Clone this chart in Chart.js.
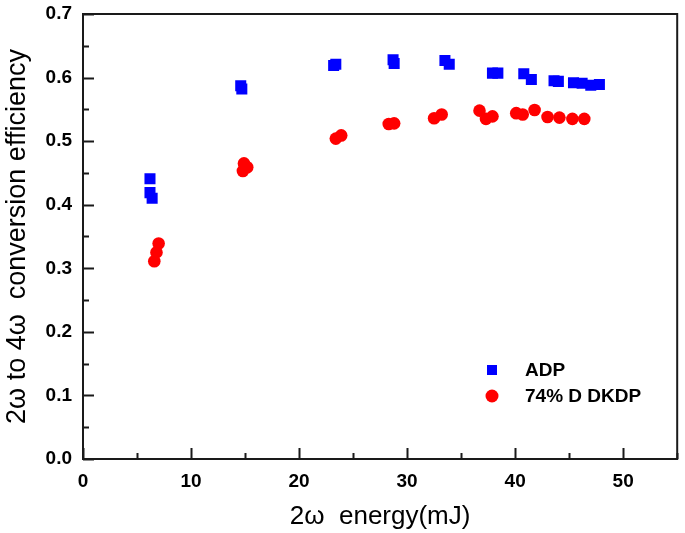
<!DOCTYPE html>
<html>
<head>
<meta charset="utf-8">
<script src="https://cdn.jsdelivr.net/npm/chart.js@4/dist/chart.umd.min.js"></script>
<style>
  html, body { margin: 0; padding: 0; background: #fff; }
  #wrap { width: 685px; height: 533px; }
</style>
</head>
<body>
<div id="wrap"><canvas id="chart" width="685" height="533"></canvas></div>
<script>
const adpEnergy = [6.2, 6.2, 6.4, 14.6, 14.7, 23.2, 23.4, 28.7, 28.8, 33.5, 33.9, 37.9, 38.4, 40.8, 41.5, 43.6, 44.0, 45.4, 46.2, 47.0, 47.8];
const adpEff    = [0.441, 0.419, 0.410, 0.587, 0.582, 0.619, 0.621, 0.628, 0.622, 0.627, 0.621, 0.607, 0.607, 0.606, 0.597, 0.595, 0.594, 0.592, 0.591, 0.588, 0.589];

const dkdpEnergy = [6.6, 6.8, 7.0, 14.9, 14.8, 15.2, 23.4, 23.9, 28.3, 28.8, 32.5, 33.2, 36.7, 37.3, 37.9, 40.1, 40.7, 41.8, 43.0, 44.1, 45.3, 46.4];
const dkdpEff    = [0.311, 0.325, 0.339, 0.465, 0.453, 0.459, 0.504, 0.509, 0.527, 0.528, 0.536, 0.542, 0.548, 0.535, 0.539, 0.544, 0.542, 0.549, 0.538, 0.537, 0.535, 0.535];

const seriesNames = ['ADP', '74% D DKDP'];
const xTitle = '2\u03c9  energy(mJ)';
const yTitle = '2\u03c9 to 4\u03c9  conversion efficiency';
const xTickLabels = ['0', '10', '20', '30', '40', '50'];

const FONT = '"Liberation Sans", Arial, sans-serif';
const toPoints = (xs, ys) => xs.map((x, i) => ({ x, y: ys[i] }));

// frame, inward ticks (major + minor) and the in-plot legend
const framePlugin = {
  id: 'frame',
  afterDraw(chart) {
    const { ctx, chartArea: a, scales } = chart;
    const xs = scales.x, ys = scales.y;
    ctx.save();
    ctx.strokeStyle = '#1a1a1a';
    ctx.lineWidth = 2;
    ctx.strokeRect(a.left, a.top, a.right - a.left, a.bottom - a.top);

    ctx.beginPath();
    for (let v = 0; v <= 55.001; v += 5) {
      const px = Math.round(xs.getPixelForValue(v)) + 0.5;
      const len = (Math.round(v) % 10 === 0) ? 11 : 6;
      ctx.moveTo(px, a.bottom);
      ctx.lineTo(px, a.bottom - len);
    }
    for (let k = 0; k <= 14; k++) {
      const py = Math.round(ys.getPixelForValue(k * 0.05)) + 0.5;
      const len = (k % 2 === 0) ? 11 : 6;
      ctx.moveTo(a.left, py);
      ctx.lineTo(a.left + len, py);
    }
    ctx.stroke();

    // legend
    ctx.font = 'bold 19px ' + FONT;
    ctx.textBaseline = 'middle';
    chart.data.datasets.forEach((ds, i) => {
      const cy = 370 + i * 26;
      const cx = 492;
      ctx.fillStyle = ds.backgroundColor;
      if (ds.pointStyle === 'rect') {
        ctx.fillRect(cx - 5, cy - 5, 10, 10);
      } else {
        ctx.beginPath();
        ctx.arc(cx, cy, 6.5, 0, Math.PI * 2);
        ctx.fill();
      }
      ctx.fillStyle = '#000';
      ctx.fillText(ds.label, 525, cy + 1);
    });
    ctx.restore();
  }
};

new Chart(document.getElementById('chart'), {
  type: 'scatter',
  data: {
    datasets: [
      {
        label: seriesNames[0],
        data: toPoints(adpEnergy, adpEff),
        pointStyle: 'rect',
        pointRadius: 7.8,
        backgroundColor: '#0000ff',
        borderColor: '#0000ff',
        borderWidth: 0
      },
      {
        label: seriesNames[1],
        data: toPoints(dkdpEnergy, dkdpEff),
        pointStyle: 'circle',
        pointRadius: 6.3,
        backgroundColor: '#ff0000',
        borderColor: '#ff0000',
        borderWidth: 0
      }
    ]
  },
  options: {
    responsive: false,
    animation: false,
    layout: { padding: { left: 0, right: 4, top: 14, bottom: 0 } },
    plugins: { legend: { display: false }, tooltip: { enabled: false } },
    scales: {
      x: {
        type: 'linear',
        min: 0, max: 55,
        afterFit: s => { s.height = 74; s.paddingLeft = 0; s.paddingRight = 0; },
        afterBuildTicks: s => { s.ticks = xTickLabels.map(t => ({ value: Number(t) })); },
        grid: { display: false, drawTicks: false },
        border: { display: false },
        ticks: {
          padding: 11,
          color: '#000',
          font: { family: FONT, size: 19, weight: 'bold' }
        },
        title: {
          display: true,
          text: xTitle,
          color: '#000',
          padding: { top: 0, bottom: 1 },
          font: { family: FONT, size: 26 }
        }
      },
      y: {
        min: 0, max: 0.7,
        afterFit: s => { s.width = 83; s.paddingTop = 0; s.paddingBottom = 0; },
        grid: { display: false, drawTicks: false },
        border: { display: false },
        ticks: {
          stepSize: 0.1,
          padding: 11,
          color: '#000',
          callback: v => v.toFixed(1),
          font: { family: FONT, size: 19, weight: 'bold' }
        },
        title: {
          display: true,
          text: yTitle,
          color: '#000',
          padding: { top: 1, bottom: 0 },
          font: { family: FONT, size: 27 }
        }
      }
    }
  },
  plugins: [framePlugin]
});
</script>
</body>
</html>
